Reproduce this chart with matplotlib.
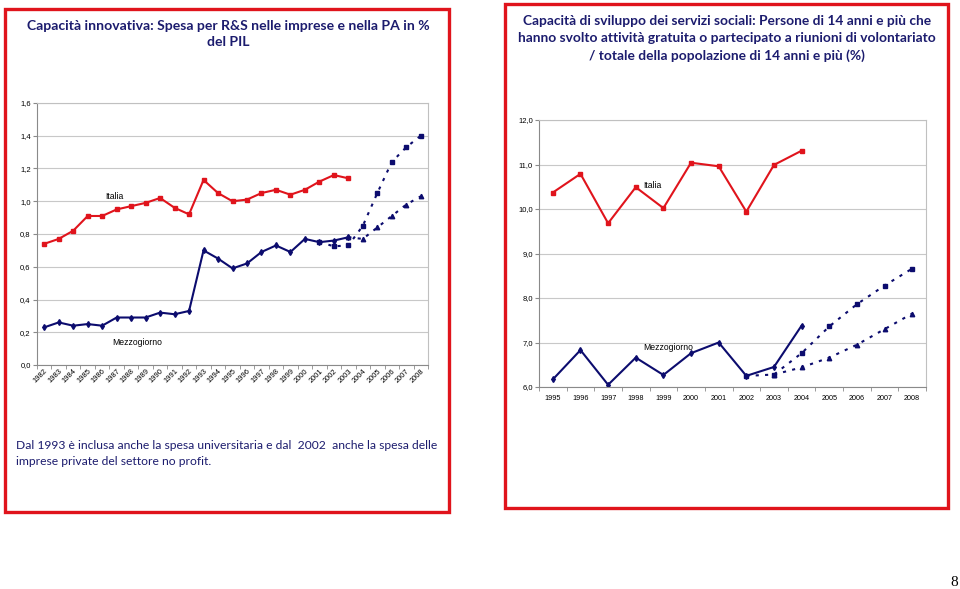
import numpy as np
import matplotlib.pyplot as plt
from matplotlib.patches import Rectangle
from matplotlib.ticker import FixedLocator, FuncFormatter

W, H = 960, 589
RED = '#e0141c'
NAVY = '#0c0c6e'
TXT = '#1c1c6e'

# left chart: R&S spending, % of GDP
years_rs = [str(y) for y in range(1982, 2009)]
italia_rs = [0.74, 0.77, 0.82, 0.91, 0.91, 0.95, 0.97, 0.99, 1.02, 0.96, 0.92,
             1.13, 1.05, 1.00, 1.01, 1.05, 1.07, 1.04, 1.07, 1.12, 1.16, 1.14]
mezzo_rs = [0.23, 0.26, 0.24, 0.25, 0.24, 0.29, 0.29, 0.29, 0.32, 0.31, 0.33,
            0.70, 0.65, 0.59, 0.62, 0.69, 0.73, 0.69, 0.77, 0.75, 0.76, 0.78]
proj_sq_years = ['2001', '2002', '2003', '2004', '2005', '2006', '2007', '2008']
proj_sq_rs = [0.75, 0.725, 0.73, 0.85, 1.05, 1.24, 1.33, 1.40]
proj_tr_years = ['2003', '2004', '2005', '2006', '2007', '2008']
proj_tr_rs = [0.78, 0.77, 0.84, 0.91, 0.98, 1.03]

# right chart: volunteering, % of population 14+
years_vol = [str(y) for y in range(1995, 2009)]
italia_vol = [10.37, 10.79, 9.68, 10.49, 10.02, 11.04, 10.96, 9.94, 10.99, 11.31]
mezzo_vol = [6.17, 6.83, 6.05, 6.66, 6.27, 6.76, 7.00, 6.25, 6.45, 7.38]
proj_sq_vyears = ['2002', '2003', '2004', '2005', '2006', '2007', '2008']
proj_sq_vol = [6.25, 6.28, 6.76, 7.36, 7.86, 8.28, 8.66]
proj_tr_vyears = ['2003', '2004', '2005', '2006', '2007', '2008']
proj_tr_vol = [6.28, 6.44, 6.66, 6.95, 7.30, 7.65]


def fx(x):
    return x / W


def fy(y):
    return 1 - y / H


def box(x0, y0, x1, y1):
    return [fx(x0), fy(y1), fx(x1) - fx(x0), fy(y0) - fy(y1)]


def style_axes(ax, ncat, ylo, yhi, ystep, fmt):
    ax.set_xlim(-0.5, ncat - 0.5)
    ax.set_ylim(ylo, yhi)
    yt = np.arange(ylo, yhi + ystep / 2, ystep)
    ax.set_yticks(yt)
    ax.yaxis.set_major_formatter(FuncFormatter(lambda v, p: fmt.format(v).replace('.', ',')))
    ax.grid(axis='y', color='#c8c8c8', lw=0.8)
    ax.set_axisbelow(True)
    for s in ['top', 'right']:
        ax.spines[s].set_color('#c0c0c0')
    for s in ['left', 'bottom']:
        ax.spines[s].set_color('#8a8a8a')
    for s in ax.spines.values():
        s.set_linewidth(0.8)
    ax.xaxis.set_minor_locator(FixedLocator(np.arange(-0.5, ncat, 1)))
    ax.tick_params(axis='x', which='major', length=0, pad=2)
    ax.tick_params(axis='x', which='minor', length=3, color='#8a8a8a')
    ax.tick_params(axis='y', length=3, color='#8a8a8a', pad=1.5)
    for lab in ax.get_yticklabels():
        lab.set_fontsize(5.5)
        lab.set_family('Liberation Sans')


fig = plt.figure(figsize=(W / 100, H / 100), dpi=100)

# red frames
for x0, y0, x1, y1 in [(5, 9, 449, 512), (505, 4, 948, 508)]:
    fig.patches.append(Rectangle((fx(x0), fy(y1)), fx(x1) - fx(x0), fy(y0) - fy(y1),
                                 transform=fig.transFigure, fill=False,
                                 edgecolor=RED, lw=2.4))

# titles
fig.text(fx(228), fy(34), 'Capacità innovativa: Spesa per R&S nelle imprese e nella PA in %\ndel PIL',
         ha='center', va='center', fontsize=10.1, fontweight='bold', color=TXT,
         family='Lato', linespacing=1.45)
fig.text(fx(727), fy(38.5), 'Capacità di sviluppo dei servizi sociali: Persone di 14 anni e più che\n'
         'hanno svolto attività gratuita o partecipato a riunioni di volontariato\n'
         '/ totale della popolazione di 14 anni e più (%)',
         ha='center', va='center', fontsize=9.9, fontweight='bold', color=TXT,
         family='Lato', linespacing=1.5)

fig.text(fx(16), fy(453.5), 'Dal 1993 è inclusa anche la spesa universitaria e dal  2002  anche la spesa delle\n'
         'imprese private del settore no profit.',
         ha='left', va='center', fontsize=8.7, color=TXT, family='Lato', linespacing=1.45)

fig.text(fx(958), fy(582), '8', ha='right', va='center', fontsize=11, family='Liberation Serif')

# left chart
ax1 = fig.add_axes(box(37, 103, 428, 365))
xi = {y: i for i, y in enumerate(years_rs)}
ax1.plot(range(len(italia_rs)), italia_rs, color=RED, lw=1.5, marker='s', ms=3.2)
ax1.plot(range(len(mezzo_rs)), mezzo_rs, color=NAVY, lw=1.5, marker='d', ms=3)
ax1.plot([xi[y] for y in proj_sq_years], proj_sq_rs, color=NAVY, lw=1.5,
         ls=(0, (1.5, 3)), marker='s', ms=3.2)
ax1.plot([xi[y] for y in proj_tr_years], proj_tr_rs, color=NAVY, lw=1.5,
         ls=(0, (1.5, 3)), marker='^', ms=3.2)
style_axes(ax1, len(years_rs), 0, 1.6, 0.2, '{:.1f}')
ax1.set_xticks(range(len(years_rs)))
ax1.set_xticklabels(years_rs, rotation=45, ha='right', rotation_mode='anchor',
                    fontsize=5.4, family='Liberation Sans')
ax1.text(4.85, 1.03, 'Italia', ha='center', va='center', fontsize=6.2, family='Liberation Sans')
ax1.text(6.45, 0.14, 'Mezzogiorno', ha='center', va='center', fontsize=6.2, family='Liberation Sans')

# right chart
ax2 = fig.add_axes(box(539, 120, 926, 387))
vi = {y: i for i, y in enumerate(years_vol)}
ax2.plot(range(len(italia_vol)), italia_vol, color=RED, lw=1.5, marker='s', ms=3.2)
ax2.plot(range(len(mezzo_vol)), mezzo_vol, color=NAVY, lw=1.5, marker='d', ms=3)
ax2.plot([vi[y] for y in proj_sq_vyears], proj_sq_vol, color=NAVY, lw=1.5,
         ls=(0, (1.5, 3)), marker='s', ms=3.2)
ax2.plot([vi[y] for y in proj_tr_vyears], proj_tr_vol, color=NAVY, lw=1.5,
         ls=(0, (1.5, 3)), marker='^', ms=3.2)
style_axes(ax2, len(years_vol), 6, 12, 1.0, '{:.1f}')
ax2.set_xticks(range(len(years_vol)))
ax2.set_xticklabels(years_vol, fontsize=5.2, family='Liberation Sans')
ax2.tick_params(axis='x', which='major', pad=6)
ax2.text(3.27, 10.52, 'Italia', ha='left', va='center', fontsize=6.2, family='Liberation Sans')
ax2.text(3.27, 6.88, 'Mezzogiorno', ha='left', va='center', fontsize=6.2, family='Liberation Sans')

fig.savefig('out.png', dpi=100)
